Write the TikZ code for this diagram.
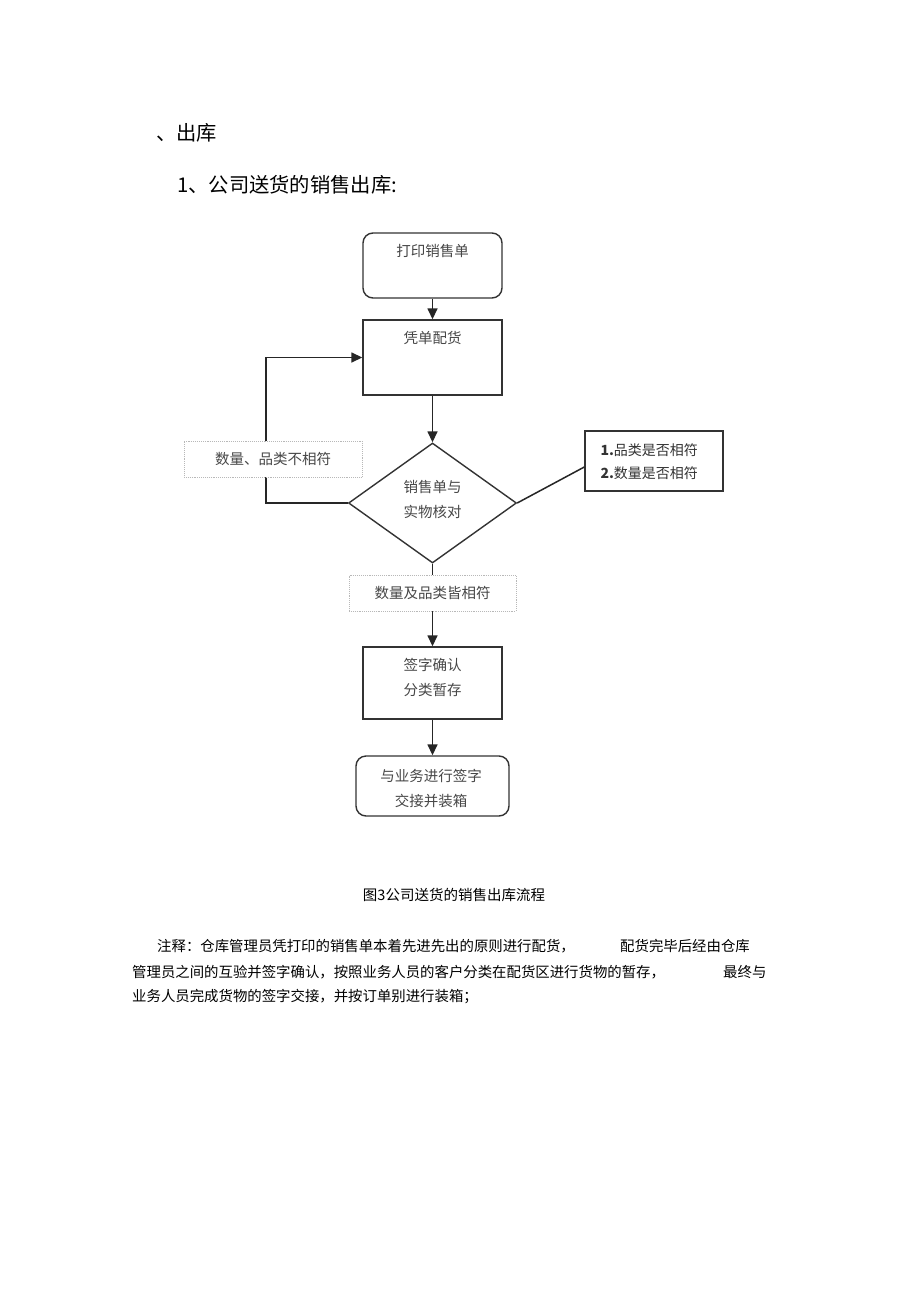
\documentclass[tikz,border=0pt]{standalone}
\usepackage{fontspec}
\setmainfont{Liberation Sans}
\newfontfamily\cjk{Noto Sans CJK SC}
\usetikzlibrary{shapes.geometric,arrows.meta}
\begin{document}
\begin{tikzpicture}[x=1pt,y=-1pt,
  flow/.style={draw=black!85, line width=1.5pt},
  arr/.style={flow, -{Triangle[length=11pt,width=10pt]}},
  shapebox/.style={draw=black!80, line width=1.4pt, fill=white, inner sep=0pt},
  boxtext/.style={font=\cjk\fontsize{14.5}{25}\selectfont, text=black!72, align=center},
  lab/.style={draw=black!28, densely dotted, line width=0.9pt, fill=white, inner sep=0pt,
    font=\cjk\fontsize{14.5}{16}\selectfont, text=black!72},
  head/.style={font=\cjk\fontsize{20.3}{22}\selectfont, text=black, anchor=west, inner sep=0pt},
  body/.style={font=\cjk\fontsize{14.4}{16}\selectfont, text=black, anchor=west, inner sep=0pt}]
\path[use as bounding box, fill=white] (0,0) rectangle (920,1303);

% headings
\node[head] (h1) at (156,133) {、出库};
\node[head] (h2) at (177,185) {1、公司送货的销售出库:};

% shapes
\node[shapebox, rounded corners=10pt, minimum width=139pt, minimum height=65pt] (b1) at (432.5,265.5) {};
\node[boxtext] (t1) at (432.5,251) {打印销售单};
\node[shapebox, minimum width=139pt, minimum height=75pt] (b2) at (432.5,357.5) {};
\node[boxtext] (t2) at (432.5,338) {凭单配货};
\node[shapebox, diamond, minimum width=168pt, minimum height=120pt] (dia) at (432.5,503) {};
\node[boxtext] (t3) at (432.5,499.5) {销售单与\\实物核对};
\node[shapebox, minimum width=138pt, minimum height=60pt] (nb) at (654,461) {};
\node[boxtext, align=left, anchor=west, text=black!80, font=\cjk\fontsize{14}{23}\selectfont] (t4) at (597,462) {\textbf{1.}品类是否相符\\\textbf{2.}数量是否相符};
\node[shapebox, minimum width=139pt, minimum height=72pt] (b3) at (432.5,683) {};
\node[boxtext] (t5) at (432.5,677.5) {签字确认\\分类暂存};
\node[shapebox, rounded corners=10pt, minimum width=153pt, minimum height=60pt] (b4) at (432.5,786) {};
\node[boxtext] (t6) at (431,788) {与业务进行签字\\交接并装箱};

% connectors
\draw[arr] (b1.south) -- (b2.north);
\draw[arr] (b2.south) -- (dia.north);
\draw[arr] (dia.west) -- ++(-82,0) |- (b2.west);
\draw[flow] (dia.east) -- ([yshift=-6pt]nb.west);
\draw[arr] (dia.south) -- (b3.north);
\draw[arr] (b3.south) -- (b4.north);

% labels on connectors
\node[lab, minimum width=178pt, minimum height=36pt] (l1) at (273,459) {数量、品类不相符};
\node[lab, minimum width=167pt, minimum height=36pt] (l2) at (432.5,593) {数量及品类皆相符};

% caption
\node[font=\cjk\fontsize{14.5}{16}\selectfont, inner sep=0pt] (cap) at (454,895) {图3公司送货的销售出库流程};

% note
\node[body] (n1) at (157,946) {注释：仓库管理员凭打印的销售单本着先进先出的原则进行配货，};
\node[body] (n1b) at (620,946) {配货完毕后经由仓库};
\node[body] (n2) at (132,972) {管理员之间的互验并签字确认，按照业务人员的客户分类在配货区进行货物的暂存，};
\node[body] (n2b) at (723,972) {最终与};
\node[body] (n3) at (132,997) {业务人员完成货物的签字交接，并按订单别进行装箱；};
\end{tikzpicture}
\end{document}
